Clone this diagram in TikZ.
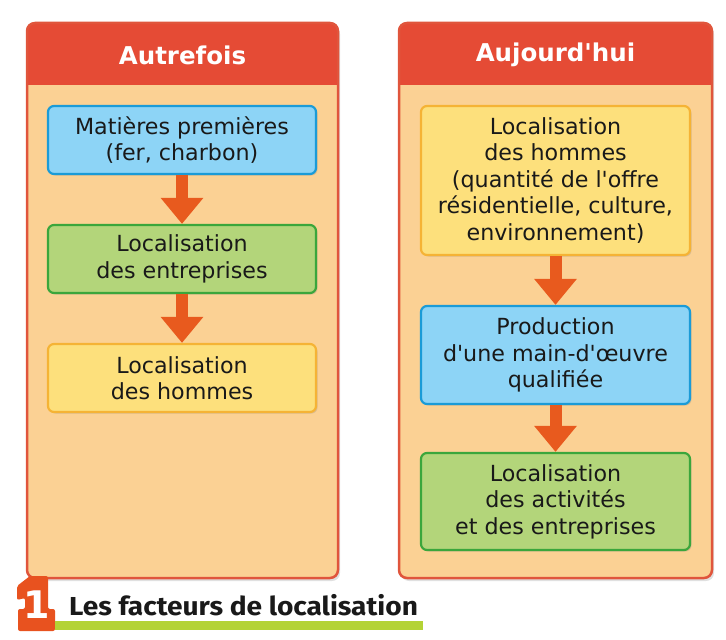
\documentclass[tikz,border=0pt]{standalone}
\usepackage{fontspec}
\usetikzlibrary{arrows.meta,shadows}
\newfontfamily\boxfont{DejaVu Sans}[Ligatures=TeXOff]
\newfontfamily\capfont{Fira Sans}[Ligatures=TeXOff, FakeStretch=1.08]
\definecolor{headred}{RGB}{229,75,53}
\definecolor{panelline}{RGB}{224,85,60}
\definecolor{panelbg}{RGB}{251,209,148}
\definecolor{bluefill}{RGB}{141,212,246}
\definecolor{blueline}{RGB}{27,155,215}
\definecolor{greenfill}{RGB}{179,213,122}
\definecolor{greenline}{RGB}{59,166,60}
\definecolor{yellowfill}{RGB}{253,224,124}
\definecolor{yellowline}{RGB}{245,179,53}
\definecolor{arroworange}{RGB}{232,90,30}
\definecolor{capgreen}{RGB}{180,211,53}
\definecolor{numorange}{RGB}{232,82,31}
\begin{document}
\begin{tikzpicture}[x=1bp,y=-1bp,
    panel/.style={draw=panelline, line width=2.5bp, rounded corners=8bp},
    headtext/.style={text=white, inner sep=0pt, font=\boxfont\bfseries\fontsize{24.5bp}{28bp}\selectfont},
    box/.style={rounded corners=6bp, line width=2.2bp, align=center, inner sep=0pt, text=black!90,
        font=\boxfont\fontsize{22.2bp}{26.5bp}\selectfont,
        drop shadow={shadow xshift=1.5bp, shadow yshift=-1.5bp, opacity=0.25}},
    bluebox/.style={box, draw=blueline, fill=bluefill},
    greenbox/.style={box, draw=greenline, fill=greenfill},
    yellowbox/.style={box, draw=yellowline, fill=yellowfill},
    leftbox/.style={minimum width=268bp, minimum height=68bp},
    flow/.style={draw=arroworange, line width=12bp, -{Triangle[width=41bp,length=26bp]}}]
  \useasboundingbox (0,0) rectangle (726,640);
  \fill[black, opacity=0.12, rounded corners=8bp] (29,26) rectangle (340,581);
  \fill[black, opacity=0.12, rounded corners=8bp] (401,26) rectangle (714,581);
  \fill[panelbg, rounded corners=8bp] (27,23) rectangle (338,578);
  \fill[panelbg, rounded corners=8bp] (399,23) rectangle (712,578);
  \begin{scope}
    \clip[rounded corners=8bp] (27,23) rectangle (338,578);
    \fill[headred] (27,23) rectangle (338,85);
  \end{scope}
  \begin{scope}
    \clip[rounded corners=8bp] (399,23) rectangle (712,578);
    \fill[headred] (399,23) rectangle (712,85);
  \end{scope}
  \draw[panel] (27,23) rectangle (338,578);
  \draw[panel] (399,23) rectangle (712,578);
  \node[headtext] (avant) at (182.5,55) {Autrefois};
  \node[headtext] (now) at (555.5,55) {Aujourd'hui};

  \node[bluebox, leftbox] (matieres) at (182,140) {Matières premières\\(fer, charbon)};
  \node[greenbox, leftbox] (entreprises) at (182,259) {Localisation\\des entreprises};
  \node[yellowbox, leftbox] (hommesA) at (182,378) {Localisation\\des hommes};
  \draw[flow] (matieres) -- (entreprises);
  \draw[flow] (entreprises) -- (hommesA);

  \node[yellowbox, minimum width=269bp, minimum height=149bp] (hommesB) at (555.5,180.5)
    {Localisation\\des hommes\\(quantité de l'offre\\résidentielle, culture,\\environnement)};
  \node[bluebox, minimum width=269bp, minimum height=98bp] (production) at (555.5,355)
    {Production\\d'une main-d'œuvre\\qualifiée};
  \node[greenbox, minimum width=269bp, minimum height=97bp] (activites) at (555.5,501.5)
    {Localisation\\des activités\\et des entreprises};
  \draw[flow] (hommesB) -- (production);
  \draw[flow] (production) -- (activites);

  \fill[numorange, rounded corners=2bp] (30,576) -- (48,576) -- (48,609) -- (55,609) -- (55,631)
    -- (18,631) -- (18,609) -- (25,609) -- (25,598) -- (17,600) -- (17,586) -- cycle;
  \node[text=white, inner sep=0pt, font=\boxfont\bfseries\fontsize{38bp}{38bp}\selectfont] (num) at (36.5,605) {1};
  \fill[capgreen] (55,621) rectangle (423,630);
  \node[anchor=base west, inner sep=0pt, text=black!90, font=\capfont\bfseries\fontsize{26bp}{30bp}\selectfont] (titre) at (69,615) {Les facteurs de localisation};
\end{tikzpicture}
\end{document}
